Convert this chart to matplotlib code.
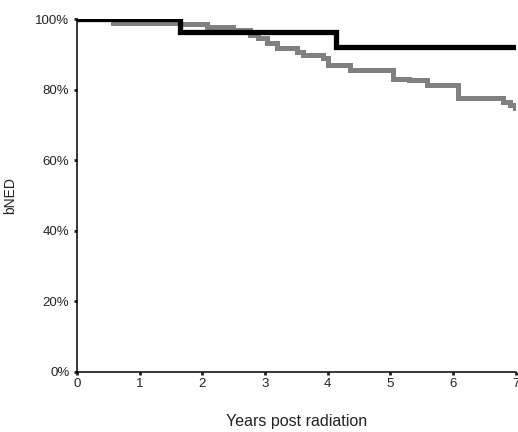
import matplotlib
matplotlib.use("Agg")
import matplotlib.pyplot as plt
from matplotlib.ticker import PercentFormatter

plt.rcParams["font.family"] = ["Liberation Sans", "DejaVu Sans"]

# step curves (years, bNED %)
black_t = [0, 1.64, 4.13, 7.0]
black_s = [100, 96.2, 92.1, 92.1]

gray_t = [0, 0.57, 1.64, 2.07, 2.49, 2.76, 2.89, 3.03, 3.19, 3.51, 3.60,
          3.92, 4.00, 4.35, 5.04, 5.30, 5.58, 6.08, 6.79, 6.91, 6.99, 7.0]
gray_s = [100, 99.0, 98.5, 97.8, 96.8, 95.5, 94.6, 93.2, 91.8, 90.7, 89.8,
          89.0, 87.0, 85.6, 83.0, 82.6, 81.3, 77.6, 76.5, 75.6, 74.8, 74.8]

x_ticks = [0, 1, 2, 3, 4, 5, 6, 7]
y_ticks = [0, 20, 40, 60, 80, 100]

fig = plt.figure(figsize=(5.18, 4.32), dpi=100)
ax = fig.add_axes([0.1486, 0.139, 0.847, 0.817])

ax.step(gray_t, gray_s, where="post", color="#808080", lw=3.6, solid_joinstyle="miter")
ax.step(black_t, black_s, where="post", color="black", lw=3.8, solid_joinstyle="miter")

ax.set_xlim(0, 7)
ax.set_ylim(0, 100)
ax.set_xticks(x_ticks)
ax.set_yticks(y_ticks)
ax.yaxis.set_major_formatter(PercentFormatter(decimals=0))

for side in ("top", "right"):
    ax.spines[side].set_visible(False)
for side in ("left", "bottom"):
    ax.spines[side].set_linewidth(1.1)

ax.tick_params(direction="out", length=2.5, width=2, labelsize=9.5, pad=3, colors="#222222")
ax.tick_params(axis="x", pad=2)

ax.set_xlabel("Years post radiation", fontsize=11.5, labelpad=17, color="#222222")
ax.set_ylabel("bNED", fontsize=10, labelpad=13, color="#222222")

plt.savefig("out.png", dpi=100)
plt.close()
